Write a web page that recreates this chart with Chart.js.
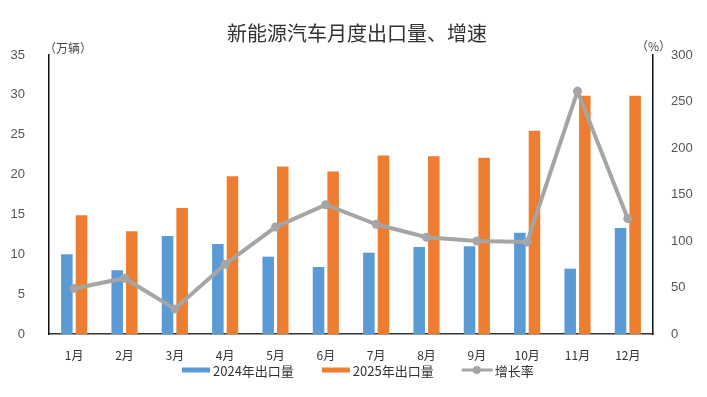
<!DOCTYPE html>
<html>
<head>
<meta charset="utf-8">
<script src="https://cdn.jsdelivr.net/npm/chart.js@4/dist/chart.umd.min.js"></script>
<style>
  html, body { margin: 0; padding: 0; background: #fff; }
  #wrap { width: 707px; height: 397px; }
</style>
</head>
<body>
<div id="wrap"><canvas id="chart" width="707" height="397"></canvas></div>
<script>
// data
const months = ['1月', '2月', '3月', '4月', '5月', '6月', '7月', '8月', '9月', '10月', '11月', '12月'];
const exports2024 = [10.0, 8.0, 12.3, 11.3, 9.7, 8.4, 10.2, 10.9, 11.0, 12.7, 8.2, 13.3];
const exports2025 = [14.9, 12.9, 15.8, 19.8, 21.0, 20.4, 22.4, 22.3, 22.1, 25.5, 29.9, 29.9];
const growthRate = [49, 60, 27, 75, 115, 139, 118, 104, 100, 99, 261, 124];

const titleText = '新能源汽车月度出口量、增速';
const cjk = '"Noto Sans CJK SC", "Noto Sans", sans-serif';
const num = '"Liberation Sans Narrow", "Liberation Sans", Arial, sans-serif';

// title, unit labels and legend
const decor = {
    id: 'decor',
    afterDraw(chart) {
        const ctx = chart.ctx;
        ctx.save();
        ctx.fillStyle = '#333';
        ctx.font = '20px ' + cjk;
        ctx.textAlign = 'center';
        ctx.textBaseline = 'middle';
        ctx.fillText(titleText, 357, 33);

        ctx.font = '12px ' + cjk;
        ctx.fillStyle = '#444';
        ctx.textAlign = 'left';
        ctx.fillText('（万辆）', 44, 48);
        ctx.fillText('（%）', 636, 46);

        // legend: bars first, then the line
        const ds = chart.data.datasets;
        ctx.font = '13px ' + cjk;
        let x = 182;
        const y = 370;
        [1, 2, 0].forEach(i => {
            const d = ds[i];
            if (d.type === 'line') {
                ctx.strokeStyle = d.borderColor;
                ctx.lineWidth = 3;
                ctx.beginPath();
                ctx.moveTo(x, y);
                ctx.lineTo(x + 31, y);
                ctx.stroke();
                ctx.fillStyle = d.borderColor;
                ctx.beginPath();
                ctx.arc(x + 15, y, 4, 0, Math.PI * 2);
                ctx.fill();
                x += 33;
            } else {
                ctx.fillStyle = d.backgroundColor;
                ctx.fillRect(x, y - 2.5, 28, 5);
                x += 31;
            }
            ctx.fillStyle = '#333';
            ctx.fillText(d.label, x, y + 1);
            x += ctx.measureText(d.label).width + 28;
        });
        ctx.restore();
    }
};

new Chart(document.getElementById('chart'), {
    data: {
        labels: months,
        datasets: [
            {
                type: 'line',
                label: '增长率',
                data: growthRate,
                yAxisID: 'y1',
                borderColor: '#A5A5A5',
                backgroundColor: '#A5A5A5',
                borderWidth: 4,
                pointRadius: 4.5,
                pointBackgroundColor: '#A5A5A5',
                pointBorderWidth: 0,
                tension: 0,
                order: 0
            },
            {
                type: 'bar',
                label: '2024年出口量',
                data: exports2024,
                yAxisID: 'y',
                backgroundColor: '#5B9BD5',
                categoryPercentage: 0.58,
                barPercentage: 0.79,
                order: 1
            },
            {
                type: 'bar',
                label: '2025年出口量',
                data: exports2025,
                yAxisID: 'y',
                backgroundColor: '#ED7D31',
                categoryPercentage: 0.58,
                barPercentage: 0.79,
                order: 1
            }
        ]
    },
    options: {
        responsive: false,
        animation: false,
        layout: { padding: { top: 55, bottom: 33, left: 0, right: 0 } },
        plugins: {
            legend: { display: false },
            title: { display: false },
            tooltip: { enabled: false }
        },
        scales: {
            x: {
                grid: { display: false },
                border: { display: true, color: '#333', width: 1.5 },
                ticks: { color: '#333', font: { family: cjk, size: 12 }, padding: 6, maxRotation: 0 },
                afterFit(scale) { scale.height = 30; }
            },
            y: {
                position: 'left',
                min: 0,
                max: 35,
                grid: { display: false },
                border: { display: true, color: '#111', width: 1.5 },
                ticks: { stepSize: 5, color: '#555', font: { family: num, size: 13 }, padding: 16 },
                afterFit(scale) { scale.width = 49; }
            },
            y1: {
                position: 'right',
                min: 0,
                max: 300,
                grid: { display: false },
                border: { display: true, color: '#111', width: 1.5 },
                ticks: { stepSize: 50, color: '#555', font: { family: num, size: 13 }, padding: 10 },
                afterFit(scale) { scale.width = 54; }
            }
        }
    },
    plugins: [decor]
});
</script>
</body>
</html>
